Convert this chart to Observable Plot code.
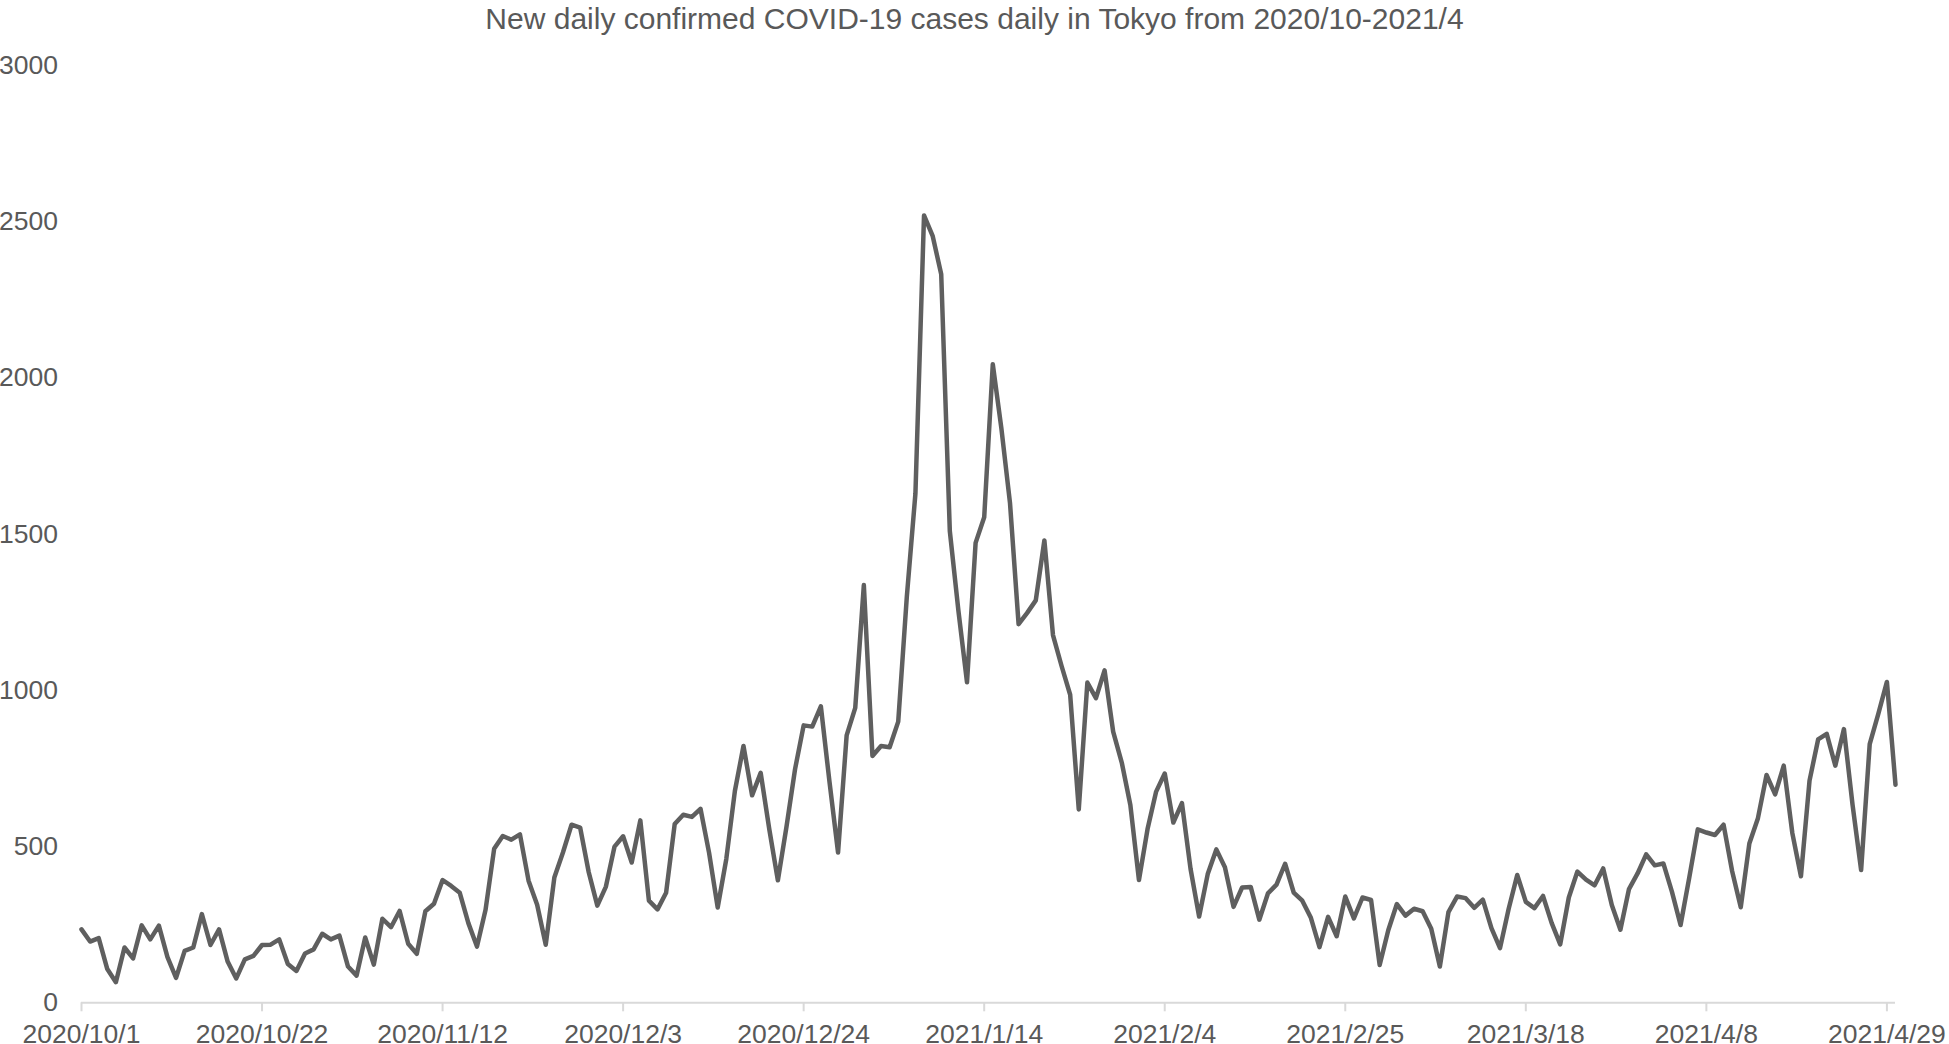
<!DOCTYPE html>
<html>
<head>
<meta charset="utf-8">
<script src="https://cdn.jsdelivr.net/npm/d3@7"></script>
<script src="https://cdn.jsdelivr.net/npm/@observablehq/plot@0.6"></script>
<style>
  html, body { margin: 0; padding: 0; background: #ffffff; overflow: hidden; }
  #title {
    height: 40px; line-height: 37px; text-align: center; white-space: nowrap;
    font-family: "Liberation Sans", Arial, sans-serif; font-size: 30px; color: #595959;
  }
</style>
</head>
<body>
<div id="title">New daily confirmed COVID-19 cases daily in Tokyo from 2020/10-2021/4</div>
<div id="chart"></div>
<script>
// First day of the series (one value per consecutive day)
const startDate = "2020-10-01";

// Daily new confirmed cases, by month
const oct2020 = [235,196,207,108,66,177,142,248,203,247,146,80,166,177,284,185,235,132,78,139,150,185,186,203,124,102,158,171,221,203,215];
const nov2020 = [116,87,209,122,269,242,294,189,157,293,317,393,374,352,255,180,298,493,534,522,539,391,314,186,401,481,570,561,418,311];
const dec2020 = [372,500,533,449,584,327,299,352,572,602,595,621,480,305,460,678,822,664,736,556,392,563,748,888,884,949,708,481,856,944,1337];
const jan2021 = [790,822,818,900,1300,1630,2520,2455,2332,1510,1255,1026,1472,1554,2044,1838,1600,1212,1248,1288,1480,1177,1078,986,619,1025,975,1064,868,769,633];
const feb2021 = [393,556,676,734,577,639,429,276,412,491,434,307,369,371,266,350,378,445,353,327,272,178,275,213,340,270,337,329];
const mar2021 = [121,232,316,279,301,293,237,116,290,340,335,304,330,239,175,300,409,323,303,342,256,187,337,420,394,376,430,313,234,364,414];
const apr2021 = [475,440,446,355,249,399,555,545,537,570,421,306,510,591,729,667,759,543,405,711,843,861,759,876,635,425,828,925,1027,698];

// Axis tick labels
const xTickLabels = ["2020/10/1","2020/10/22","2020/11/12","2020/12/3","2020/12/24","2021/1/14","2021/2/4","2021/2/25","2021/3/18","2021/4/8","2021/4/29"];
const yTickValues = [0, 500, 1000, 1500, 2000, 2500, 3000];

const values = [...oct2020, ...nov2020, ...dec2020, ...jan2021, ...feb2021, ...mar2021, ...apr2021];
const start = new Date(startDate + "T00:00:00Z");
const data = values.map((v, i) => ({ date: d3.utcDay.offset(start, i), cases: v }));

const parseLabel = s => { const [y, m, d] = s.split("/").map(Number); return new Date(Date.UTC(y, m - 1, d)); };
const xTicks = xTickLabels.map(parseLabel);
const fmt = d => `${d.getUTCFullYear()}/${d.getUTCMonth() + 1}/${d.getUTCDate()}`;

const chart = Plot.plot({
  width: 1949,
  height: 1004,
  marginLeft: 81,
  marginRight: 54,
  marginTop: 25,
  marginBottom: 41.7,
  style: { fontFamily: "Liberation Sans, Arial, sans-serif", fontSize: "26.5px", color: "#595959", background: "#ffffff", overflow: "visible" },
  x: { type: "utc", domain: [data[0].date, data[data.length - 1].date] },
  y: { domain: [0, 3000] },
  marks: [
    Plot.ruleY([0], { stroke: "#d9d9d9", strokeWidth: 2 }),
    Plot.axisX({ ticks: xTicks, tickSize: 9, tickFormat: () => "", stroke: "#d9d9d9", strokeWidth: 2, label: null }),
    Plot.axisX({ ticks: xTicks, tickSize: 0, tickPadding: 21, tickFormat: fmt, fill: "#595959", label: null, fontSize: 26.5 }),
    Plot.axisY({ ticks: yTickValues, tickSize: 0, tickPadding: 23.5, tickFormat: d3.format("d"), fill: "#595959", label: null, fontSize: 26.5 }),
    Plot.lineY(data, { x: "date", y: "cases", stroke: "#5f5f5f", strokeWidth: 4.5, strokeLinejoin: "round", strokeLinecap: "round" })
  ]
});
document.getElementById("chart").appendChild(chart);
</script>
</body>
</html>
